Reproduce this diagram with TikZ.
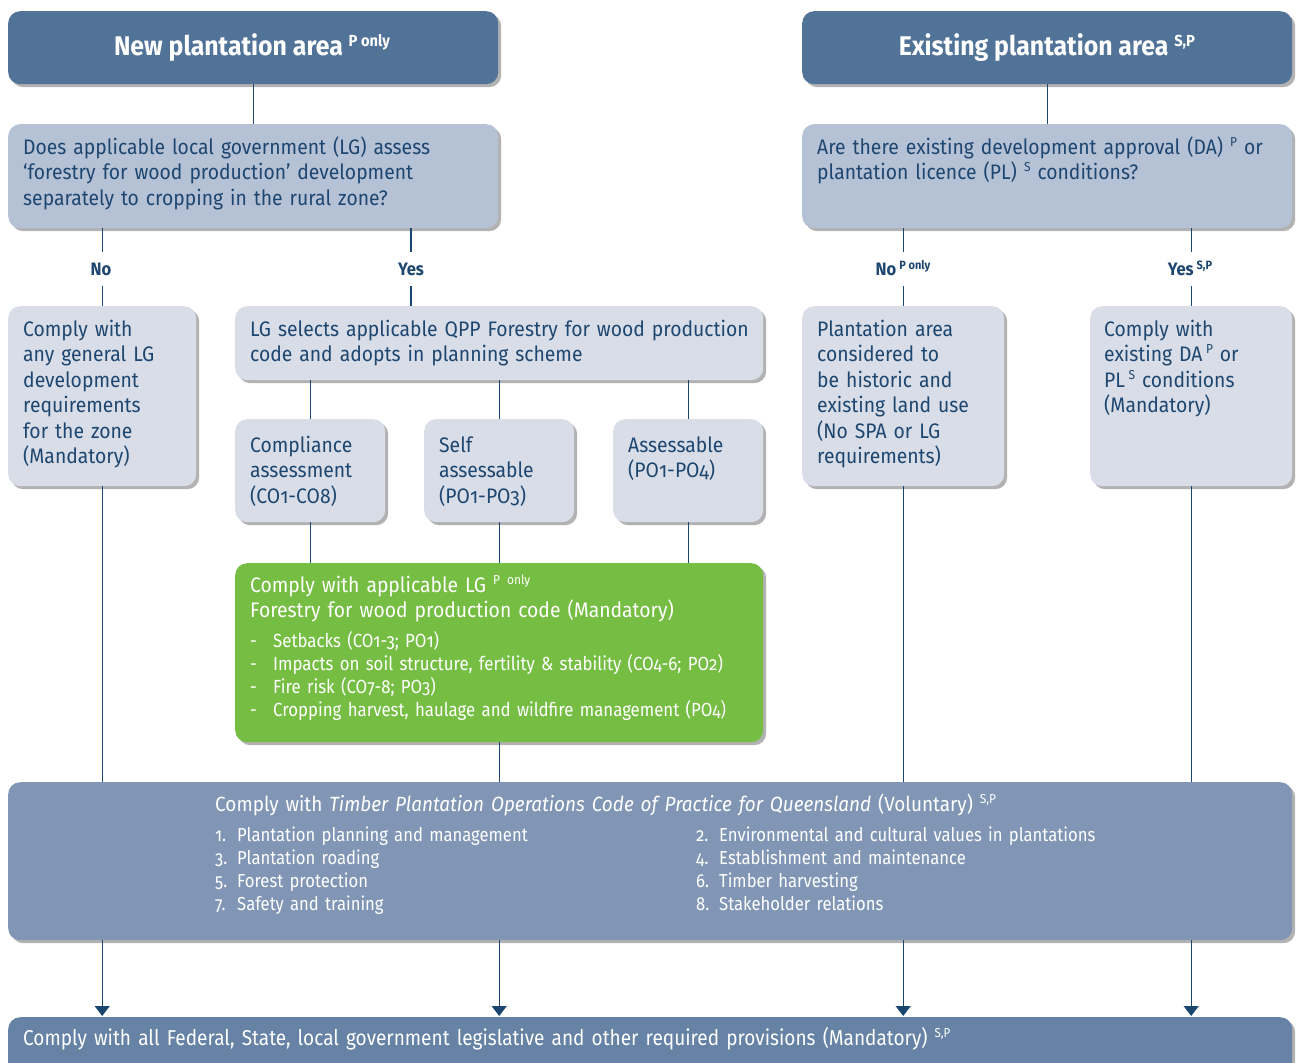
\documentclass[tikz,border=0pt]{standalone}
\usepackage{fontspec}
\setmainfont{Fira Sans}[Numbers=OldStyle, FakeStretch=0.92]
\newfontfamily\condfont{Fira Sans}[Numbers=OldStyle, FakeStretch=0.885]
\newfontfamily\hdrfont{Fira Sans}[Numbers=OldStyle, FakeStretch=0.92]
\usetikzlibrary{shadows,arrows.meta}
\definecolor{hdr}{HTML}{517398}
\definecolor{qbox}{HTML}{B5C1D5}
\definecolor{lbox}{HTML}{D8DDE7}
\definecolor{gbox}{HTML}{76BE43}
\definecolor{tbox}{HTML}{8196B5}
\definecolor{bbox}{HTML}{6682A5}
\definecolor{tdark}{HTML}{1D4670}
\definecolor{lnc}{HTML}{1B4670}
\newcommand\supx[3]{\raisebox{#2pt}{\fontsize{#1}{#1}\selectfont #3}}
\tikzset{
  boxy/.style={anchor=north west, inner sep=0pt, rounded corners=12pt,
    drop shadow={shadow xshift=3pt, shadow yshift=-3pt, fill=black, opacity=0.3}},
  txt/.style={anchor=base west, inner sep=0pt, align=left, text=tdark,
    font=\fontsize{21}{25.5}\selectfont},
  conn/.style={draw=lnc, line width=1.3pt},
  arr/.style={conn, -{Triangle[width=15pt,length=10pt]}, shorten >=1pt},
  lab/.style={fill=white, text=tdark, inner xsep=2pt, inner ysep=11pt,
    text height=12pt, text depth=0pt, font=\fontsize{18}{18}\selectfont\bfseries},
}
\begin{document}
\begin{tikzpicture}[x=1pt,y=-1pt]
\useasboundingbox[fill=white] (0,0) rectangle (1296,1063);
% boxes
\node[boxy, fill=hdr, minimum width=490pt, minimum height=73pt] (h1) at (8,11) {};
\node[boxy, fill=hdr, minimum width=490pt, minimum height=73pt] (h2) at (802,11) {};
\node[boxy, fill=qbox, minimum width=490pt, minimum height=104pt] (q1) at (8,124) {};
\node[boxy, fill=qbox, minimum width=490pt, minimum height=104pt] (q2) at (802,124) {};
\node[boxy, fill=lbox, minimum width=188pt, minimum height=180pt] (lb) at (8,306) {};
\node[boxy, fill=lbox, minimum width=528pt, minimum height=74pt] (lg) at (235,306) {};
\node[boxy, fill=lbox, minimum width=150pt, minimum height=103pt] (c1) at (235,419) {};
\node[boxy, fill=lbox, minimum width=150pt, minimum height=103pt] (c2) at (424,419) {};
\node[boxy, fill=lbox, minimum width=150pt, minimum height=103pt] (c3) at (613,419) {};
\node[boxy, fill=gbox, minimum width=528pt, minimum height=179pt] (gr) at (235,563) {};
\node[boxy, fill=lbox, minimum width=202pt, minimum height=180pt] (pa) at (802,306) {};
\node[boxy, fill=lbox, minimum width=202pt, minimum height=180pt] (da) at (1090,306) {};
\node[boxy, fill=tbox, minimum width=1284pt, minimum height=158pt] (tb) at (8,782) {};
\node[boxy, fill=bbox, minimum width=1284pt, minimum height=70pt] (bt) at (8,1017) {};
% header texts
\node[anchor=base, inner sep=0pt, text=white, font=\hdrfont\fontsize{27}{27}\selectfont\bfseries] (h1t) at (252,55) {New plantation area \supx{16}{9}{P only}};
\node[anchor=base, inner sep=0pt, text=white, font=\hdrfont\fontsize{27}{27}\selectfont\bfseries] (h2t) at (1047,55) {Existing plantation area \supx{16}{9}{S,P}};
% connectors
\draw[conn] (h1.south) -- (q1.north -| h1.south);
\draw[conn] (h2.south) -- (q2.north -| h2.south);
\coordinate (yx) at (411,0);
\draw[conn] (q1.south -| lb.north) -- (lb.north);
\draw[conn] (q1.south -| yx) -- (lg.north -| yx);
\draw[conn] (q2.south -| pa.north) -- (pa.north);
\draw[conn] (q2.south -| da.north) -- (da.north);
\foreach \c in {c1,c2,c3}{
  \draw[conn] (lg.south -| \c.north) -- (\c.north);
  \draw[conn] (\c.south) -- (gr.north -| \c.south);
}
\draw[conn] (lb.south) -- (tb.north -| lb.south);
\draw[conn] (gr.south) -- (tb.north -| gr.south);
\draw[conn] (pa.south) -- (tb.north -| pa.south);
\draw[conn] (da.south) -- (tb.north -| da.south);
\foreach \c in {lb,gr,pa,da}{
  \draw[arr] (tb.south -| \c.south) -- (bt.north -| \c.south);
}
% labels
\node[lab] (lno) at (101,269) {No};
\node[lab] (lyes) at (411,269) {Yes};
\node[lab] (rno) at (903,269) {No\,\supx{12}{6}{P only}};
\node[lab] (ryes) at (1190,269) {Yes\,\supx{12}{6}{S,P}};
% texts
\node[txt, text width=470pt] (q1t) at (23,154) {Does applicable local government (LG) assess\\‘forestry for wood production’ development\\separately to cropping in the rural zone?};
\node[txt, text width=470pt] (q2t) at (817,154) {Are there existing development approval (DA) \supx{13}{8}{P} or\\plantation licence (PL) \supx{13}{8}{S} conditions?};
\node[txt, text width=175pt] (lbt) at (23,336) {Comply with\\any general LG\\development\\requirements\\for the zone\\(Mandatory)};
\node[txt, text width=520pt] (lgt) at (250,336) {LG selects applicable QPP Forestry for wood production\\code and adopts in planning scheme};
\node[txt, text width=140pt] (c1t) at (250,452) {Compliance\\assessment\\(CO1-CO8)};
\node[txt, text width=140pt] (c2t) at (439,452) {Self\\assessable\\(PO1-PO3)};
\node[txt, text width=140pt] (c3t) at (628,452) {Assessable\\(PO1-PO4)};
\node[txt, text width=195pt] (pat) at (817,336) {Plantation area\\considered to\\be historic and\\existing land use\\(No SPA or LG\\requirements)};
\node[txt, text width=195pt] (dat) at (1104,336) {Comply with\\existing DA\,\supx{13}{8}{P} or\\PL\,\supx{13}{8}{S} conditions\\(Mandatory)};
\node[txt, text=white, text width=520pt] (grt) at (250,592) {Comply with applicable LG \supx{13}{8}{P only}\\Forestry for wood production code (Mandatory)};
\node[txt, text=white, text width=520pt, font=\condfont\fontsize{19}{23}\selectfont] (grb) at (250,647) {\makebox[23pt][l]{-}Setbacks (CO1-3; PO1)\\\makebox[23pt][l]{-}Impacts on soil structure, fertility \& stability (CO4-6; PO2)\\\makebox[23pt][l]{-}Fire risk (CO7-8; PO3)\\\makebox[23pt][l]{-}Cropping harvest, haulage and wildfire management (PO4)};
\node[txt, text=white, text width=1000pt, font=\fontsize{20.6}{24}\selectfont] (tbt) at (215,811) {Comply with \textit{Timber Plantation Operations Code of Practice for Queensland} (Voluntary) \supx{13}{8}{S,P}};
\node[txt, text=white, text width=460pt, font=\condfont\fontsize{18.8}{23.3}\selectfont] (tl1) at (215,841) {\makebox[22pt][l]{1.}Plantation planning and management\\\makebox[22pt][l]{3.}Plantation roading\\\makebox[22pt][l]{5.}Forest protection\\\makebox[22pt][l]{7.}Safety and training};
\node[txt, text=white, text width=560pt, font=\condfont\fontsize{18.8}{23.3}\selectfont] (tl2) at (696,841) {\makebox[23pt][l]{2.}Environmental and cultural values in plantations\\\makebox[23pt][l]{4.}Establishment and maintenance\\\makebox[23pt][l]{6.}Timber harvesting\\\makebox[23pt][l]{8.}Stakeholder relations};
\node[txt, text=white, text width=1200pt, font=\condfont\fontsize{21.5}{25}\selectfont] (btt) at (23,1045) {Comply with all Federal, State, local government legislative and other required provisions (Mandatory) \supx{13}{8}{S,P}};
\end{tikzpicture}
\end{document}
